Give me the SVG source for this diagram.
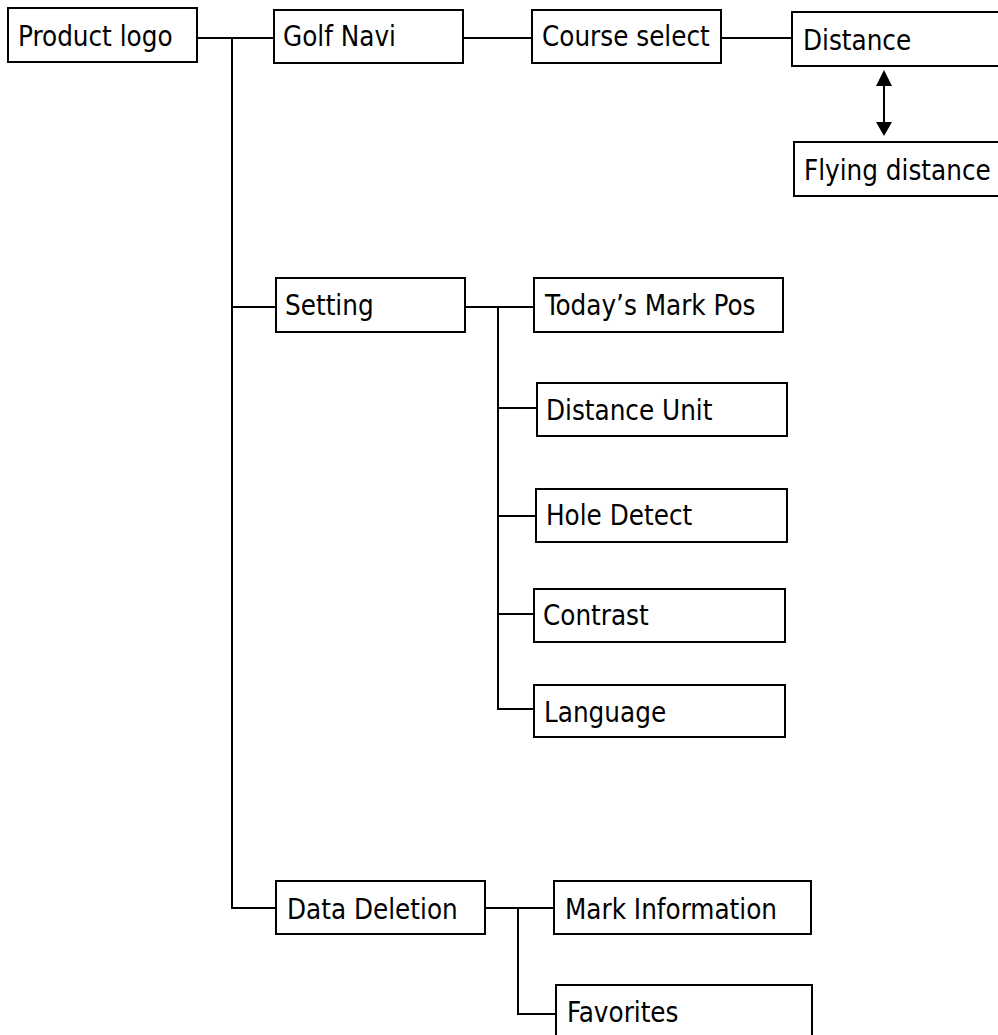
<svg xmlns="http://www.w3.org/2000/svg" width="998" height="1035" viewBox="0 0 998 1035">
<style>
.box{fill:#fff;stroke:#000;stroke-width:2}
.lbl{font-family:"DejaVu Sans Condensed","DejaVu Sans",sans-serif;font-size:27.5px;fill:#000}
.ln{fill:none;stroke:#000;stroke-width:2}
</style>
<rect width="998" height="1035" fill="#fff"/>
<g id="connectors">
<path class="ln" d="M197,38H274M232,38V908H276M232,307H276M463,38H532M721,38H792"/>
<path class="ln" d="M465,307H534M498,307V709H534M498,408H537M498,516H536M498,614H534"/>
<path class="ln" d="M485,908H554M518,908V1014H556"/>
<line class="ln" x1="884" y1="84" x2="884" y2="124"/>
<polygon points="884,70 892,86 876,86" fill="#000"/>
<polygon points="884,136 892,122 876,122" fill="#000"/>
</g>
<g id="n-product"><rect class="box" x="8" y="8" width="189" height="54"/><text class="lbl" x="18" y="46">Product logo</text></g>
<g id="n-golfnavi"><rect class="box" x="274" y="10" width="189" height="53"/><text class="lbl" x="283" y="46">Golf Navi</text></g>
<g id="n-course"><rect class="box" x="532" y="10" width="189" height="53"/><text class="lbl" x="542" y="46">Course select</text></g>
<g id="n-distance"><rect class="box" x="792" y="12" width="220" height="54"/><text class="lbl" x="803" y="50">Distance</text></g>
<g id="n-flying"><rect class="box" x="794" y="142" width="220" height="54"/><text class="lbl" x="804" y="180">Flying distance</text></g>
<g id="n-setting"><rect class="box" x="276" y="278" width="189" height="54"/><text class="lbl" x="285" y="315">Setting</text></g>
<g id="n-today"><rect class="box" x="534" y="278" width="249" height="54"/><text class="lbl" x="545" y="315">Today’s Mark Pos</text></g>
<g id="n-unit"><rect class="box" x="537" y="383" width="250" height="53"/><text class="lbl" x="546" y="420">Distance Unit</text></g>
<g id="n-hole"><rect class="box" x="536" y="489" width="251" height="53"/><text class="lbl" x="546" y="525">Hole Detect</text></g>
<g id="n-contrast"><rect class="box" x="534" y="589" width="251" height="53"/><text class="lbl" x="543" y="625">Contrast</text></g>
<g id="n-language"><rect class="box" x="534" y="685" width="251" height="52"/><text class="lbl" x="544" y="722">Language</text></g>
<g id="n-deletion"><rect class="box" x="276" y="881" width="209" height="53"/><text class="lbl" x="287" y="919">Data Deletion</text></g>
<g id="n-markinfo"><rect class="box" x="554" y="881" width="257" height="53"/><text class="lbl" x="565" y="919">Mark Information</text></g>
<g id="n-favorites"><rect class="box" x="556" y="985" width="256" height="60"/><text class="lbl" x="567" y="1022">Favorites</text></g>
</svg>
